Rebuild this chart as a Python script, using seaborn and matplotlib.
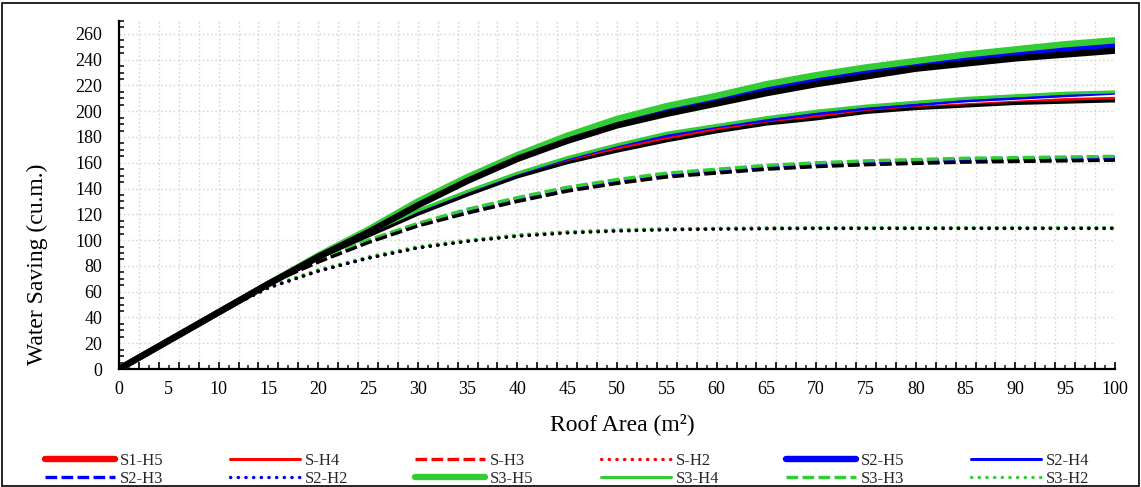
import matplotlib
matplotlib.use("Agg")
import matplotlib.pyplot as plt
import seaborn as sns
from matplotlib.ticker import MultipleLocator
from matplotlib.patches import Rectangle

# ---------------- data ----------------
roof_area = list(range(0, 101, 5))

s1_h5 = [0, 22, 44, 66, 87, 107, 128, 147, 164, 179, 191, 200, 208, 216, 223, 229, 235, 239, 243, 246, 249]
s1_h4 = [0, 22, 44, 66, 86, 104, 121, 136, 150, 161, 171, 179, 186, 191, 196, 200, 203, 205, 207, 209, 210]
s1_h3 = [0, 22, 44, 66, 83, 99, 112, 122, 131, 139, 145, 150, 153, 156, 158, 159.5, 160.5, 161.5, 162, 162.5, 163]
s1_h2 = [0, 22, 44, 63, 76, 86, 94, 99.5, 103.5, 106, 107.5, 108.3, 108.8, 109.1, 109.2, 109.3, 109.3, 109.3, 109.3, 109.3, 109.3]

s2_h5 = [0, 22, 44, 66, 87, 107, 128, 148, 165, 180, 192, 202, 210, 218, 225, 231, 236, 241, 245, 248, 251]
s2_h4 = [0, 22, 44, 66, 86, 104, 122, 137, 151, 163, 173, 181, 188, 193, 198, 202, 205, 208, 210, 212, 214]
s2_h3 = [0, 22, 44, 66, 84, 99, 112, 123, 132, 140, 146, 151, 154, 157, 159, 160.5, 161.5, 162.5, 163, 163.5, 164]
s2_h2 = [0, 22, 44, 63, 76, 86, 94, 99.5, 103.7, 106.2, 107.7, 108.5, 109, 109.3, 109.4, 109.5, 109.5, 109.5, 109.5, 109.5, 109.5]

s3_h5 = [0, 22, 44, 66, 88, 108, 130, 149, 166, 181, 194, 204, 212, 221, 228, 234, 239, 244, 248, 252, 255]
s3_h4 = [0, 22, 44, 66, 87, 105, 123, 138, 152, 164, 174, 183, 189, 195, 200, 204, 207, 210, 212, 214, 215]
s3_h3 = [0, 22, 44, 66, 84, 100, 113, 124, 133, 141, 147, 152, 155, 158, 160, 161.5, 162.5, 163.5, 164, 164.5, 165]
s3_h2 = [0, 22, 44, 64, 77, 87, 95, 100, 104, 106.5, 108, 108.8, 109.2, 109.5, 109.6, 109.7, 109.7, 109.7, 109.7, 109.7, 109.7]

s4_h5 = [0, 22, 44, 66, 87, 106, 127, 146, 163, 177, 189, 198, 206, 214, 221, 227, 233, 237, 241, 244, 247]
s4_h4 = [0, 22, 44, 66, 86, 103, 120, 135, 149, 160, 169, 177, 184, 190, 194, 199, 202, 204, 206, 207, 208]
s4_h3 = [0, 22, 44, 66, 83, 98, 111, 121, 130, 138, 144, 149, 152, 155, 157, 158.5, 159.5, 160.5, 161, 161.5, 162]
s4_h2 = [0, 22, 44, 63, 76, 86, 94, 99, 103, 105.5, 107, 108, 108.5, 108.8, 109, 109, 109, 109, 109, 109, 109]

legend_labels = ["S1-H5", "S-H4", "S-H3", "S-H2",
                 "S2-H5", "S2-H4", "S2-H3", "S2-H2",
                 "S3-H5", "S3-H4", "S3-H3", "S3-H2"]

x_tick_labels = list(range(0, 101, 5))

# ---------------- style ----------------
sns.set_theme(style="white")
plt.rcParams["font.family"] = ["Liberation Serif", "DejaVu Serif"]

red, blue, green, black = "#FF0000", "#0000FF", "#32CD32", "#000000"
h_styles = {
    "H5": dict(lw=4.6, linestyle="-", solid_capstyle="round"),
    "H4": dict(lw=2.2, linestyle="-", solid_capstyle="round"),
    "H3": dict(lw=2.4, linestyle=(0, (3.5, 1.3)), dash_capstyle="butt"),
    "H2": dict(lw=2.4, linestyle=(0, (0.1, 2.2)), dash_capstyle="round"),
}

series = [
    (s1_h5, red, "H5", "S1-H5"), (s1_h4, red, "H4", "S-H4"),
    (s1_h3, red, "H3", "S-H3"), (s1_h2, red, "H2", "S-H2"),
    (s2_h5, blue, "H5", "S2-H5"), (s2_h4, blue, "H4", "S2-H4"),
    (s2_h3, blue, "H3", "S2-H3"), (s2_h2, blue, "H2", "S2-H2"),
    (s3_h5, green, "H5", "S3-H5"), (s3_h4, green, "H4", "S3-H4"),
    (s3_h3, green, "H3", "S3-H3"), (s3_h2, green, "H2", "S3-H2"),
    (s4_h5, black, "H5", None), (s4_h4, black, "H4", None),
    (s4_h3, black, "H3", None), (s4_h2, black, "H2", None),
]

W, H = 1141, 487
fig = plt.figure(figsize=(W / 100, H / 100), dpi=100)
ax = fig.add_axes([119 / W, 1 - 369 / H, (1115 - 119) / W, (369 - 21) / H])

handles = {}
for vals, col, h, lab in series:
    sns.lineplot(x=roof_area, y=vals, ax=ax, color=col, legend=False, zorder=3, **h_styles[h])
    line = ax.get_lines()[-1]
    if lab is not None:
        handles[lab] = line

ax.set_xlim(0, 100)
ax.set_ylim(0, 270)

# y axis
ax.yaxis.set_major_locator(MultipleLocator(20))
ax.yaxis.set_minor_locator(MultipleLocator(5))
ax.set_yticks(list(range(0, 261, 20)))
ax.tick_params(axis="y", which="major", direction="in", length=6, width=1.5,
               labelsize=13, pad=12, colors="black")
ax.tick_params(axis="y", which="minor", direction="in", length=3.5, width=1.3, left=True)

# x axis: ticks every 2 (with grid) and every 1, labels every 5 on a secondary axis
ax.xaxis.set_major_locator(MultipleLocator(2))
ax.xaxis.set_minor_locator(MultipleLocator(1))
ax.tick_params(axis="x", which="major", direction="in", length=5, width=1.4,
               labelbottom=False, bottom=True)
ax.tick_params(axis="x", which="minor", direction="in", length=3, width=1.2, bottom=True)

sec = ax.secondary_xaxis("bottom")
sec.set_xticks(x_tick_labels)
sec.set_xticklabels([str(v) for v in x_tick_labels])
sec.tick_params(length=0, pad=8.5, labelsize=13, colors="black")
for sp in sec.spines.values():
    sp.set_visible(False)

for side in ["top", "right"]:
    ax.spines[side].set_visible(False)
for side in ["left", "bottom"]:
    ax.spines[side].set_color("black")
    ax.spines[side].set_linewidth(1.6)

ax.grid(True, which="major", axis="both", color="#D6D6D6", linestyle=(0, (1.2, 1.8)), lw=1.0, zorder=0)
ax.set_axisbelow(True)

ax.set_xlabel("Roof Area (m\u00b2)", fontsize=17, color="black")
ax.xaxis.label.set_va("center")
ax.xaxis.set_label_coords(0.505, -0.158)
ax.set_ylabel("Water Saving (cu.m.)", fontsize=17, color="black")
ax.yaxis.label.set_va("center")
ax.yaxis.set_label_coords(-0.082, 0.30)

order = [0, 6, 1, 7, 2, 8, 3, 9, 4, 10, 5, 11]
hl = [handles[legend_labels[i]] for i in order]
ll = [legend_labels[i] for i in order]
fig.legend(hl, ll, ncol=6, loc="center left", bbox_to_anchor=(45 / W, 1 - 470 / H),
           frameon=False, handlelength=4.2, handletextpad=0.3, columnspacing=4.0,
           labelspacing=0.15, borderpad=0, borderaxespad=0, fontsize=12)

fig.patches.append(Rectangle((2 / W, 1 / H), 1 - 4 / W, 1 - 4 / H, transform=fig.transFigure,
                             fill=False, edgecolor="black", lw=1.2))

fig.savefig("out.png", dpi=100)
